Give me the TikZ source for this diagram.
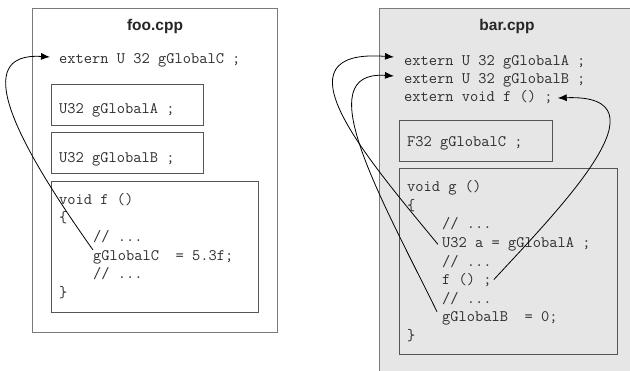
\documentclass[tikz,border=0pt]{standalone}
\usepackage{fontspec}
\newfontfamily\titlefont{Liberation Sans}
\usetikzlibrary{arrows.meta}
\definecolor{txt}{HTML}{2E2E2E}
\definecolor{barfill}{HTML}{E6E6E6}
\definecolor{outerline}{HTML}{7A7A7A}
\definecolor{innerline}{HTML}{555555}
\tikzset{
  code/.style={inner sep=0pt, anchor=base west, text=txt, font=\fontsize{16}{18}\selectfont\ttfamily},
  ttl/.style={inner sep=0pt, anchor=base, text=black!85, font=\fontsize{15.5}{17}\selectfont\titlefont\bfseries},
  outerbox/.style={draw=outerline, line width=0.9pt},
  innerbox/.style={draw=innerline, line width=0.8pt},
  link/.style={draw=black, line width=0.8pt, -{Latex[length=9pt,width=7pt]}}
}
\begin{document}
\begin{tikzpicture}[x=1pt,y=-1pt]
\useasboundingbox (0,0) rectangle (630,370);
% ---------- foo.cpp ----------
\draw[outerbox, fill=white] (32,8) rectangle (277,332);
\node[ttl] (fooT) at (155,30) {foo.cpp};
\node[code] (exC) at (59,63) {extern U 32 gGlobalC ;};
\draw[innerbox] (51,84) rectangle (203,125);
\node[code] (defA) at (59,113) {U32 gGlobalA ;};
\draw[innerbox] (51,132) rectangle (203,173);
\node[code] (defB) at (59,162) {U32 gGlobalB ;};
\draw[innerbox] (51,181) rectangle (258,312);
\node[code] (fhead) at (59,204) {void f ()};
\node[code] (fopen) at (59,222.7) {\{};
\node[code] (fc1) at (93,241.3) {// ...};
\node[code] (gC) at (93,260) {gGlobalC\ \ = 5.3f;};
\node[code] (fc2) at (93,278.7) {// ...};
\node[code] (fclose) at (59,297.3) {\}};
% ---------- bar.cpp ----------
\draw[outerbox, fill=barfill] (379,8) rectangle (640,380);
\node[ttl] (barT) at (507,30) {bar.cpp};
\node[code] (exA) at (404,65) {extern U 32 gGlobalA ;};
\node[code] (exB) at (404,83) {extern U 32 gGlobalB ;};
\node[code] (exf) at (404,101) {extern void f () ;};
\draw[innerbox] (399,120) rectangle (552,161);
\node[code] (defC) at (407,146) {F32 gGlobalC ;};
\draw[innerbox] (399,168) rectangle (617,354);
\node[code] (ghead) at (407,191.7) {void g ()};
\node[code] (gopen) at (407,210.3) {\{};
\node[code] (gc1) at (442,228.8) {// ...};
\node[code] (uA) at (442,247.4) {U32 a = gGlobalA ;};
\node[code] (gc2) at (442,266) {// ...};
\node[code] (fcall) at (442,284.6) {f () ;};
\node[code] (gc3) at (442,303.1) {// ...};
\node[code] (gB) at (442,321.7) {gGlobalB\ \ = 0;};
\node[code] (gclose) at (407,340.3) {\}};
% ---------- connectors ----------
\draw[link] ([yshift=10pt]gC.base west) .. controls (15,140) and (-30,52) .. ([xshift=-9pt,yshift=6pt]exC.base west);
\draw[link] ([xshift=-4pt,yshift=3pt]uA.base west) .. controls (365,156) and (272,48) .. ([xshift=-10pt,yshift=8pt]exA.base west);
\draw[link] ([xshift=-5pt,yshift=10pt]gB.base west) .. controls (380,196) and (308,70) .. ([xshift=-10pt,yshift=7pt]exB.base west);
\draw[link] ([xshift=2pt,yshift=5pt]fcall.base east) .. controls (562,206) and (672,94) .. ([xshift=5pt,yshift=3pt]exf.base east);
\end{tikzpicture}
\end{document}
